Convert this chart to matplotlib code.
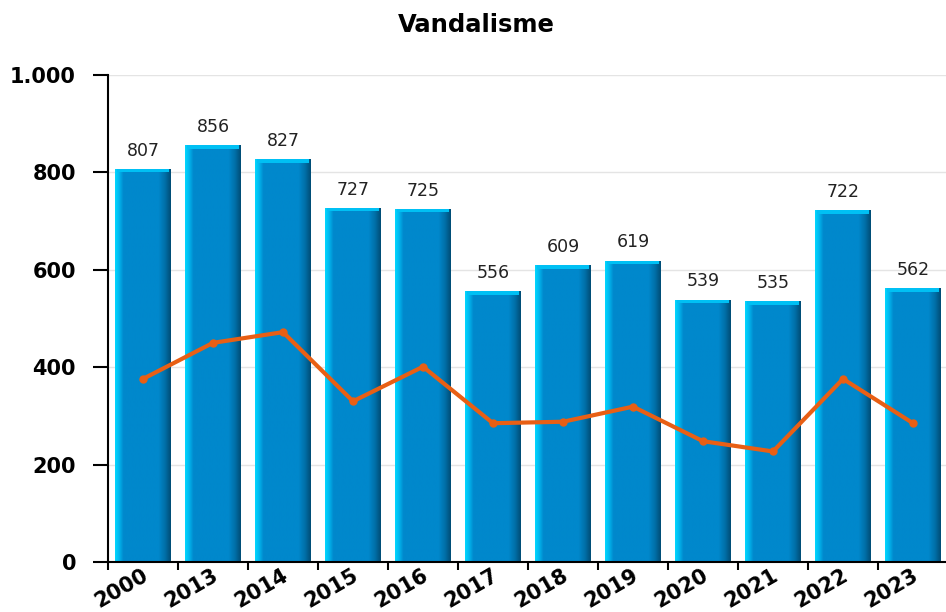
import matplotlib
matplotlib.use("Agg")
import matplotlib.pyplot as plt
import matplotlib.transforms as mtransforms
import numpy as np
from matplotlib.colors import LinearSegmentedColormap

years = ["2000", "2013", "2014", "2015", "2016", "2017", "2018", "2019", "2020", "2021", "2022", "2023"]
cases = [807, 856, 827, 727, 725, 556, 609, 619, 539, 535, 722, 562]
solved = [376, 450, 472, 330, 401, 285, 288, 319, 248, 227, 376, 285]

fig = plt.figure(figsize=(9.46, 6.12), dpi=100)
ax = fig.add_axes([108 / 946, 50 / 612, 840 / 946, 487 / 612])

x = np.arange(len(years))
bars = ax.bar(x, cases, width=0.8, color="#0088cc", zorder=2)

# horizontal gradient to fake the 3d look of the bars
grad = LinearSegmentedColormap.from_list(
    "bar3d",
    [(0.0, "#00d8ff"), (0.07, "#00b8f0"), (0.15, "#0088cc"),
     (0.78, "#0088cc"), (0.9, "#006ea6"), (1.0, "#004c75")])
g = np.linspace(0, 1, 256).reshape(1, -1)
for b in bars:
    x0, w, h = b.get_x(), b.get_width(), b.get_height()
    im = ax.imshow(g, cmap=grad, aspect="auto", extent=(x0, x0 + w, 0, h), zorder=2.1)
    im.set_clip_path(b)
    # lighter rounded cap
    ax.fill_between([x0 + 0.03, x0 + w - 0.03], h - 7, h, color="#00c0f4", zorder=2.2, lw=0)
    ax.text(x0 + w / 2, h + 19, str(h), ha="center", va="bottom", fontsize=12.5, color="#222222")

ax.plot(x, solved, color="#e85f14", lw=3, marker="o", ms=5, zorder=3, solid_capstyle="round")

ax.set_xlim(-0.5, len(years) - 0.5)
ax.set_ylim(0, 1000)
ax.set_yticks(range(0, 1001, 200))
ax.set_yticklabels(["0", "200", "400", "600", "800", "1.000"], fontsize=15, fontweight="bold")
ax.yaxis.grid(True, color="#e4e4e4", lw=1)
ax.set_axisbelow(True)
ax.tick_params(axis="y", length=11, width=1.5, pad=12)

ax.set_xticks(x)
ax.set_xticklabels(years, rotation=30, ha="right", rotation_mode="anchor", fontsize=15, fontweight="bold")
ax.tick_params(axis="x", which="major", length=0, pad=2)
offset = mtransforms.ScaledTranslation(-0.01, 0, fig.dpi_scale_trans)
for lab in ax.get_xticklabels():
    lab.set_transform(lab.get_transform() + offset)
ax.set_xticks(np.arange(-0.5, len(years), 1), minor=True)
ax.tick_params(axis="x", which="minor", length=6, width=1.5)

for s in ["top", "right"]:
    ax.spines[s].set_visible(False)
ax.spines["left"].set_linewidth(1.5)
ax.spines["bottom"].set_linewidth(1.5)

fig.text(476 / 946, 1 - 25 / 612, "Vandalisme", ha="center", va="center", fontsize=17.5, fontweight="bold")

fig.savefig("out.png", dpi=100)
